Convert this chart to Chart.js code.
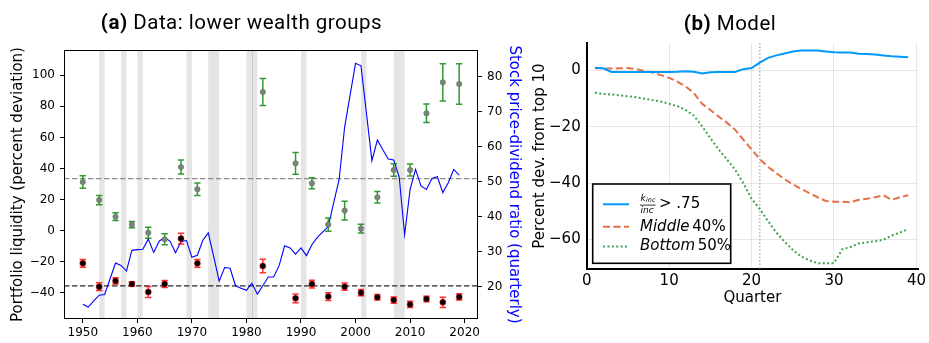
<!DOCTYPE html>
<html>
<head>
<meta charset="utf-8">
<script src="https://cdn.jsdelivr.net/npm/chart.js@4.4.1/dist/chart.umd.min.js"></script>
<style>
  html, body { margin: 0; padding: 0; background: #fff; overflow: hidden; }
  #wrap { position: relative; width: 929px; height: 343px; }
  #pa { position: absolute; left: 0; top: 0; }
  #pb { position: absolute; left: 528px; top: 0; }
</style>
</head>
<body>
<div id="wrap">
  <canvas id="pa" width="528" height="343"></canvas>
  <canvas id="pb" width="401" height="343"></canvas>
</div>
<script>
// ---------- Panel (a): survey data ----------
const SURVEY_YEARS = [1950, 1953, 1956, 1959, 1962, 1965, 1968, 1971, 1983, 1989,
                      1992, 1995, 1998, 2001, 2004, 2007, 2010, 2013, 2016, 2019];
// Middle 40% liquidity (percent deviation) and standard-error half-widths
const MID40_LIQ = [31.3, 19.7, 9.0, 3.9, -1.3, -5.5, 41.0, 26.6, 89.2, 43.3,
                   30.5, 3.9, 12.9, 1.3, 21.5, 39.0, 39.0, 75.5, 95.4, 94.3];
const MID40_ERR = [4.0, 3.0, 2.5, 2.0, 3.5, 3.5, 4.5, 4.0, 8.7, 7.0,
                   3.5, 4.3, 6.0, 2.8, 3.7, 4.0, 3.9, 6.0, 12.0, 13.0];
// Bottom 50% liquidity (percent deviation) and standard-error half-widths
const BOT50_LIQ = [-21.0, -36.0, -32.3, -34.3, -39.4, -34.3, -5.1, -21.0, -22.7, -43.5,
                   -34.3, -42.4, -36.0, -39.9, -42.8, -44.6, -47.4, -43.9, -46.1, -42.6];
const BOT50_ERR = [2.5, 2.5, 2.0, 1.5, 3.5, 2.3, 3.5, 2.5, 4.3, 2.8,
                   2.5, 2.5, 2.3, 2.0, 1.8, 2.0, 2.0, 1.8, 3.3, 2.0];

// Stock price-dividend ratio
const PD_YEARS = [1950, 1951, 1952, 1953, 1954, 1955, 1956, 1957, 1958, 1959,
                  1960, 1961, 1962, 1963, 1964, 1965, 1966, 1967, 1968, 1969,
                  1970, 1971, 1972, 1973, 1974, 1975, 1976, 1977, 1978, 1979,
                  1980, 1981, 1982, 1983, 1984, 1985, 1986, 1987, 1988, 1989,
                  1990, 1991, 1992, 1993, 1994, 1995, 1996, 1997, 1998, 1999,
                  2000, 2001, 2002, 2003, 2004, 2005, 2006, 2007, 2008, 2009,
                  2010, 2011, 2012, 2013, 2014, 2015, 2016, 2017, 2018, 2019];
const PD_RATIO = [15.0, 14.2, 16.0, 17.6, 17.8, 22.3, 26.8, 26.1, 24.5, 30.4,
                  30.6, 30.7, 33.6, 29.8, 33.0, 34.1, 33.0, 29.7, 32.9, 33.2,
                  28.4, 29.0, 33.3, 35.4, 28.6, 21.6, 25.5, 25.3, 20.3, 19.6,
                  19.0, 21.0, 17.9, 20.3, 22.8, 22.8, 26.1, 31.7, 31.1, 29.3,
                  31.1, 28.9, 32.0, 34.1, 35.7, 37.2, 44.0, 50.7, 65.6, 74.7,
                  83.8, 83.1, 69.5, 56.0, 61.9, 59.1, 56.5, 56.2, 51.4, 34.8,
                  47.8, 53.5, 48.8, 47.8, 50.9, 51.4, 46.9, 49.7, 53.5, 51.9];

// NBER recessions, [start, end] in years
const RECESSIONS = [[1953, 1954], [1957, 1958], [1960, 1961], [1969, 1970], [1973, 1975],
                    [1980, 1981], [1981, 1982], [1990, 1991], [2001, 2002], [2007, 2009]];

const YEAR_TICKS = [1950, 1960, 1970, 1980, 1990, 2000, 2010, 2020];
const LIQ_TICKS = [-40, -20, 0, 20, 40, 60, 80, 100];
const PD_TICKS = [20, 30, 40, 50, 60, 70, 80];

// ---------- Panel (b): model ----------
const QUARTERS = [1, 2, 3, 4, 5, 6, 7, 8, 9, 10, 11, 12, 13, 14, 15, 16, 17, 18, 19, 20,
                  21, 22, 23, 24, 25, 26, 27, 28, 29, 30, 31, 32, 33, 34, 35, 36, 37, 38, 39];
const HIGH_KINC = [1.0, 0.8, -0.5, -0.5, -0.5, -0.5, -0.5, -0.5, -0.5, -0.5,
                   -0.4, -0.2, -0.4, -1.0, -0.6, -0.5, -0.5, -0.5, 0.5, 0.9,
                   2.8, 4.5, 5.4, 6.1, 6.8, 7.1, 7.1, 7.1, 6.8, 6.5,
                   6.4, 6.4, 6.0, 5.9, 5.7, 5.4, 5.1, 4.9, 4.7];
const MIDDLE_40 = [0.8, 0.8, 0.7, 0.8, 0.9, 0.5, -0.1, -0.7, -1.6, -2.6,
                   -3.9, -5.6, -8.0, -11.8, -14.0, -16.3, -18.5, -21.0, -24.5, -28.0,
                   -31.5, -34.2, -36.4, -38.6, -40.4, -42.0, -43.5, -45.0, -46.3, -46.6,
                   -46.6, -46.8, -45.9, -45.5, -45.0, -44.3, -45.9, -45.0, -44.3];
const BOTTOM_50 = [-7.9, -8.3, -8.5, -8.8, -9.1, -9.5, -10.0, -10.5, -11.0, -11.8,
                   -12.6, -14.0, -16.0, -19.8, -24.0, -28.0, -31.5, -35.2, -40.0, -45.5,
                   -49.2, -53.5, -57.5, -60.8, -63.7, -66.0, -67.4, -68.4, -68.5, -68.4,
                   -63.5, -62.7, -61.4, -61.0, -60.6, -60.1, -58.6, -57.5, -56.4];
const SHOCK_QUARTER = [21];
const QUARTER_TICKS = [0, 10, 20, 30, 40];
const DEV_TICKS = [-60, -40, -20, 0];

// ---------- helpers ----------
const AXIS_FONT = 'DejaVu Sans';
const TITLE_FONT = 'Roboto';
const mean = a => a.reduce((s, v) => s + v, 0) / a.length;
const minusFmt = v => (v < 0 ? '\u2212' + Math.abs(v) : String(v));
const fixedTicks = list => scale => { scale.ticks = list.map(v => ({ value: v })); };

function drawMixedTitle(ctx, cx, baseline, boldPart, rest) {
  ctx.save();
  ctx.fillStyle = '#000';
  ctx.textBaseline = 'alphabetic';
  ctx.textAlign = 'left';
  if ('letterSpacing' in ctx) ctx.letterSpacing = '0.5px';
  const boldFont = `bold 20.5px ${TITLE_FONT}`, plainFont = `20.5px ${TITLE_FONT}`;
  ctx.font = boldFont;
  const w1 = ctx.measureText(boldPart).width;
  ctx.font = plainFont;
  const w2 = ctx.measureText(rest).width;
  const x0 = cx - (w1 + w2) / 2;
  ctx.font = boldFont;
  ctx.fillText(boldPart, x0, baseline);
  ctx.font = plainFont;
  ctx.fillText(rest, x0 + w1, baseline);
  ctx.restore();
}

// Shaded recessions and group-mean reference lines
const backdropA = {
  id: 'backdropA',
  beforeDatasetsDraw(chart) {
    const { ctx, chartArea: a, scales } = chart;
    const x = scales.x, y = scales.y;
    ctx.save();
    ctx.beginPath();
    ctx.rect(a.left, a.top, a.right - a.left, a.bottom - a.top);
    ctx.clip();
    ctx.fillStyle = '#e5e5e5';
    RECESSIONS.forEach(([s, e]) => {
      const x0 = x.getPixelForValue(s), x1 = x.getPixelForValue(e);
      ctx.fillRect(x0, a.top, x1 - x0, a.bottom - a.top);
    });
    // seam where two spans touch
    ctx.strokeStyle = '#cccccc';
    ctx.lineWidth = 1;
    RECESSIONS.forEach(([s, e]) => {
      if (RECESSIONS.some(r => r[0] === e)) {
        const xs = Math.round(x.getPixelForValue(e)) + 0.5;
        ctx.beginPath(); ctx.moveTo(xs, a.top); ctx.lineTo(xs, a.bottom); ctx.stroke();
      }
    });
    ctx.setLineDash([5.5, 2.5]);
    ctx.lineWidth = 1.3;
    [[mean(MID40_LIQ), '#8f8f8f'], [mean(BOT50_LIQ), '#2b2b2b']].forEach(([v, c]) => {
      const yy = y.getPixelForValue(v);
      ctx.strokeStyle = c;
      ctx.beginPath(); ctx.moveTo(a.left, yy); ctx.lineTo(a.right, yy); ctx.stroke();
    });
    ctx.restore();
  },
  afterDraw(chart) {
    const { ctx, chartArea: a } = chart;
    ctx.save();
    ctx.strokeStyle = '#000';
    ctx.lineWidth = 1;
    ctx.strokeRect(Math.round(a.left) + 0.5, Math.round(a.top) + 0.5,
                   Math.round(a.right - a.left) - 1, Math.round(a.bottom - a.top) - 1);
    ctx.restore();
    drawMixedTitle(ctx, 241.5, 29, '(a)', ' Data: lower wealth groups');
  }
};

// Error bars drawn just beneath each scatter set
const errorBars = {
  id: 'errorBars',
  beforeDatasetDraw(chart, args) {
    const ds = chart.data.datasets[args.index];
    if (!ds.errors) return;
    const ctx = chart.ctx, xs = chart.scales.x, ys = chart.scales.y;
    ctx.save();
    ctx.strokeStyle = ds.errorColor;
    ctx.lineWidth = 1.5;
    ds.data.forEach((p, i) => {
      const x = xs.getPixelForValue(p.x);
      const y1 = ys.getPixelForValue(p.y + ds.errors[i]);
      const y2 = ys.getPixelForValue(p.y - ds.errors[i]);
      ctx.beginPath();
      ctx.moveTo(x, y1); ctx.lineTo(x, y2);
      ctx.moveTo(x - 3.2, y1); ctx.lineTo(x + 3.2, y1);
      ctx.moveTo(x - 3.2, y2); ctx.lineTo(x + 3.2, y2);
      ctx.stroke();
    });
    ctx.restore();
  }
};

const tickStyleA = { size: 12, family: AXIS_FONT };

new Chart(document.getElementById('pa'), {
  type: 'scatter',
  data: {
    datasets: [
      {
        type: 'line',
        data: PD_YEARS.map((yr, i) => ({ x: yr, y: PD_RATIO[i] })),
        yAxisID: 'yR',
        borderColor: '#0000ff',
        borderWidth: 1.1,
        pointRadius: 0,
        tension: 0,
        order: 3
      },
      {
        data: SURVEY_YEARS.map((yr, i) => ({ x: yr, y: MID40_LIQ[i] })),
        yAxisID: 'y',
        errors: MID40_ERR,
        errorColor: 'rgba(0,128,0,0.8)',
        backgroundColor: '#808080',
        borderColor: 'rgba(0,128,0,0.25)',
        borderWidth: 1,
        pointRadius: 2.8,
        order: 2
      },
      {
        data: SURVEY_YEARS.map((yr, i) => ({ x: yr, y: BOT50_LIQ[i] })),
        yAxisID: 'y',
        errors: BOT50_ERR,
        errorColor: 'rgba(255,0,0,0.8)',
        backgroundColor: '#000',
        borderColor: 'rgba(255,0,0,0.35)',
        borderWidth: 1.2,
        pointRadius: 3,
        order: 1
      }
    ]
  },
  options: {
    responsive: false,
    animation: false,
    events: [],
    layout: { padding: { top: 50, left: 0, right: 0, bottom: 0 } },
    plugins: { legend: { display: false }, tooltip: { enabled: false } },
    scales: {
      x: {
        type: 'linear', min: 1946.55, max: 2022.45,
        afterBuildTicks: fixedTicks(YEAR_TICKS),
        afterFit: s => { s.height = 24; },
        grid: { drawOnChartArea: false, drawTicks: true, tickLength: 4, tickColor: '#000', lineWidth: 1 },
        border: { display: false },
        ticks: { color: '#000', font: tickStyleA, padding: 3, maxRotation: 0, autoSkip: false, callback: v => String(v) }
      },
      y: {
        type: 'linear', position: 'left', min: -56.8, max: 116.2,
        afterBuildTicks: fixedTicks(LIQ_TICKS),
        afterFit: s => { s.width = 64; },
        grid: { drawOnChartArea: false, drawTicks: true, tickLength: 4, tickColor: '#000', lineWidth: 1 },
        border: { display: false },
        ticks: { color: '#000', font: tickStyleA, padding: 5, autoSkip: false, callback: minusFmt },
        title: { display: true, text: 'Portfolio liquidity (percent deviation)', color: '#000',
                 font: { size: 15, family: AXIS_FONT }, padding: { top: 9, bottom: 0 } }
      },
      yR: {
        type: 'linear', position: 'right', min: 10.8, max: 87.6,
        afterBuildTicks: fixedTicks(PD_TICKS),
        afterFit: s => { s.width = 50; },
        grid: { drawOnChartArea: false, drawTicks: true, tickLength: 4, tickColor: '#000', lineWidth: 1 },
        border: { display: false },
        ticks: { color: '#000', font: tickStyleA, padding: 5, autoSkip: false, callback: v => String(v) },
        title: { display: true, text: 'Stock price-dividend ratio (quarterly)', color: '#0000ff',
                 font: { size: 15, family: AXIS_FONT }, padding: { top: 5.5, bottom: 0 } }
      }
    }
  },
  plugins: [backdropA, errorBars]
});

// ---------- Panel (b) ----------
const overlayB = {
  id: 'overlayB',
  beforeDatasetsDraw(chart) {
    const { ctx, chartArea: a, scales: { x } } = chart;
    ctx.save();
    ctx.strokeStyle = '#b4b4b4';
    ctx.lineWidth = 1.5;
    ctx.setLineDash([1.5, 2]);
    SHOCK_QUARTER.forEach(q => {
      const xx = x.getPixelForValue(q);
      ctx.beginPath(); ctx.moveTo(xx, a.top); ctx.lineTo(xx, a.bottom); ctx.stroke();
    });
    ctx.restore();
  },
  afterDraw(chart) {
    const { ctx } = chart;
    drawMixedTitle(ctx, 202, 29.5, '(b)', ' Model');
    // legend
    const L = 64.7, T = 184, W = 138, H = 79.3;
    ctx.save();
    ctx.fillStyle = '#fff';
    ctx.fillRect(L, T, W, H);
    ctx.strokeStyle = '#000';
    ctx.lineWidth = 1.6;
    ctx.strokeRect(L, T, W, H);
    const ds = chart.data.datasets;
    const rows = [204.3, 226.7, 246.5];
    rows.forEach((ry, i) => {
      ctx.strokeStyle = ds[i].borderColor;
      ctx.lineWidth = 2;
      ctx.setLineDash(ds[i].borderDash || []);
      ctx.beginPath(); ctx.moveTo(75, ry); ctx.lineTo(101, ry); ctx.stroke();
    });
    ctx.setLineDash([]);
    ctx.fillStyle = '#000';
    ctx.textBaseline = 'middle';
    ctx.textAlign = 'left';
    // fraction k_inc / inc
    ctx.font = `italic 9px ${AXIS_FONT}`;
    ctx.fillText('k', 112.5, rows[0] - 5.5);
    ctx.font = `italic 6.5px ${AXIS_FONT}`;
    ctx.fillText('inc', 118, rows[0] - 4);
    ctx.font = `italic 9px ${AXIS_FONT}`;
    ctx.fillText('inc', 112.5, rows[0] + 6.5);
    ctx.lineWidth = 0.8;
    ctx.strokeStyle = '#000';
    ctx.beginPath(); ctx.moveTo(112, rows[0] + 0.8); ctx.lineTo(127.5, rows[0] + 0.8); ctx.stroke();
    ctx.font = `15px ${AXIS_FONT}`;
    ctx.fillText('> .75', 131, rows[0]);
    ctx.font = `italic 15px ${AXIS_FONT}`;
    let w = ctx.measureText('Middle').width;
    ctx.fillText('Middle', 112, rows[1]);
    ctx.font = `15px ${AXIS_FONT}`;
    ctx.fillText(' 40%', 112 + w - 2, rows[1]);
    ctx.font = `italic 15px ${AXIS_FONT}`;
    w = ctx.measureText('Bottom').width;
    ctx.fillText('Bottom', 112, rows[2]);
    ctx.font = `15px ${AXIS_FONT}`;
    ctx.fillText(' 50%', 112 + w - 2, rows[2]);
    ctx.restore();
  }
};

const tickStyleB = { size: 15, family: AXIS_FONT };

new Chart(document.getElementById('pb'), {
  type: 'line',
  data: {
    datasets: [
      { data: QUARTERS.map((q, i) => ({ x: q, y: HIGH_KINC[i] })), borderColor: '#009AFA',
        borderWidth: 2, pointRadius: 0, tension: 0 },
      { data: QUARTERS.map((q, i) => ({ x: q, y: MIDDLE_40[i] })), borderColor: '#E36F47',
        borderDash: [7, 3.5], borderWidth: 2, pointRadius: 0, tension: 0 },
      { data: QUARTERS.map((q, i) => ({ x: q, y: BOTTOM_50[i] })), borderColor: '#3EA44E',
        borderDash: [2, 2.4], borderWidth: 2, pointRadius: 0, tension: 0 }
    ]
  },
  options: {
    responsive: false,
    animation: false,
    events: [],
    layout: { padding: { top: 43, left: 0, right: 7.3, bottom: 0 } },
    plugins: { legend: { display: false }, tooltip: { enabled: false } },
    scales: {
      x: {
        type: 'linear', min: 0, max: 40.2,
        afterBuildTicks: fixedTicks(QUARTER_TICKS),
        afterFit: s => { s.height = 73.7; },
        grid: { color: 'rgba(0,0,0,0.09)', lineWidth: 1, drawTicks: false },
        border: { display: true, color: '#000', width: 2 },
        ticks: { color: '#000', font: tickStyleB, padding: 3, maxRotation: 0, autoSkip: false },
        title: { display: true, text: 'Quarter', color: '#000', font: { size: 15, family: AXIS_FONT },
                 padding: { top: 0, bottom: 36 } }
      },
      y: {
        type: 'linear', min: -70.6, max: 9.8,
        afterBuildTicks: fixedTicks(DEV_TICKS),
        afterFit: s => { s.width = 58.7; },
        grid: { color: 'rgba(0,0,0,0.09)', lineWidth: 1, drawTicks: false },
        border: { display: true, color: '#000', width: 2 },
        ticks: { color: '#000', font: tickStyleB, padding: 6, autoSkip: false, callback: minusFmt },
        title: { display: true, text: 'Percent dev. from top 10', color: '#000',
                 font: { size: 15, family: AXIS_FONT }, padding: { top: 3, bottom: 0 } }
      }
    }
  },
  plugins: [overlayB]
});
</script>
</body>
</html>
